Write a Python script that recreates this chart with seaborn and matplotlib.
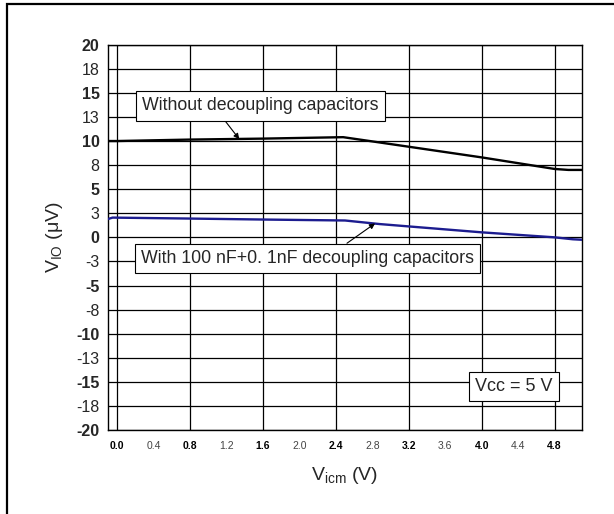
import numpy as np
import pandas as pd
import seaborn as sns
import matplotlib.pyplot as plt
from matplotlib.patches import Rectangle

vicm_no_cap = [-0.1, 0.0, 0.8, 1.6, 2.48, 2.88, 4.0, 4.8, 4.95, 5.1]
vio_no_cap = [10.0, 10.0, 10.15, 10.25, 10.4, 9.85, 8.3, 7.1, 7.0, 7.0]

vicm_with_cap = [-0.1, -0.05, 0.8, 1.6, 2.5, 2.88, 4.0, 4.8, 5.0, 5.1]
vio_with_cap = [1.9, 2.05, 1.95, 1.85, 1.75, 1.38, 0.52, 0.0, -0.2, -0.25]

xticks_major = [0.0, 0.8, 1.6, 2.4, 3.2, 4.0, 4.8]
xticks_minor = [0.4, 1.2, 2.0, 2.8, 3.6, 4.4]
yticks_major = [-20, -15, -10, -5, 0, 5, 10, 15, 20]
yticks_minor = [-17.5, -12.5, -7.5, -2.5, 2.5, 7.5, 12.5, 17.5]
ylabels_major = ["-20", "-15", "-10", "-5", "0", "5", "10", "15", "20"]
ylabels_minor = ["-18", "-13", "-8", "-3", "3", "8", "13", "18"]

label_no_cap = "Without decoupling capacitors"
label_with_cap = "With 100 nF+0. 1nF decoupling capacitors"

df = pd.concat([
    pd.DataFrame({"Vicm": vicm_no_cap, "Vio": vio_no_cap, "case": label_no_cap}),
    pd.DataFrame({"Vicm": vicm_with_cap, "Vio": vio_with_cap, "case": label_with_cap}),
])

sns.set_style("white")
plt.rcParams['font.family'] = ['Liberation Sans', 'DejaVu Sans']
plt.rcParams['mathtext.default'] = 'regular'

fig = plt.figure(figsize=(6.14, 5.14), dpi=100)
ax = fig.add_axes([108 / 614, 1 - 430 / 514, 474 / 614, 385.3 / 514])

sns.lineplot(data=df, x="Vicm", y="Vio", hue="case", sort=False,
             palette={label_no_cap: "black", label_with_cap: "#1c1c8f"},
             linewidth=1.7, legend=False, ax=ax, zorder=3)

ax.set_xlim(-0.1, 5.1)
ax.set_ylim(-20, 20)

ax.set_xticks(xticks_major)
ax.set_xticks(xticks_minor, minor=True)
ax.set_xticklabels(["%.1f" % v for v in xticks_major], fontsize=7.5, fontweight="bold")
ax.set_xticklabels(["%.1f" % v for v in xticks_minor], minor=True, fontsize=7.5, color="#444444")

ax.set_yticks(yticks_major)
ax.set_yticks(yticks_minor, minor=True)
ax.set_yticklabels(ylabels_major, fontsize=11.5, fontweight="bold")
ax.set_yticklabels(ylabels_minor, minor=True, fontsize=11.5)

ax.tick_params(axis="x", which="both", direction="in", length=3, width=1, pad=8, colors="black")
ax.tick_params(axis="x", which="minor", labelcolor="#444444")
ax.tick_params(axis="y", which="both", length=0, pad=6)

ax.grid(True, which="major", axis="x", color="black", linewidth=0.9)
ax.grid(True, which="both", axis="y", color="black", linewidth=0.9)
ax.set_axisbelow(True)
for s in ax.spines.values():
    s.set_color("black")
    s.set_linewidth(1.0)

ax.set_xlabel("V$_{icm}$ (V)", fontsize=14, labelpad=10)
ax.set_ylabel("V$_{IO}$ (\u03bcV)", fontsize=14, labelpad=8)

box = dict(boxstyle="square,pad=0.35", fc="white", ec="black", lw=0.8)
arrow = dict(arrowstyle="-|>", color="black", lw=0.8, mutation_scale=8, shrinkA=0, shrinkB=0)

ax.annotate(label_no_cap, xy=(1.34, 10.2), xytext=(1.57, 13.65),
            fontsize=12.8, ha="center", va="center", bbox=box,
            arrowprops=dict(arrow, relpos=(0.33, 0.0)), zorder=5)
ax.annotate(label_with_cap, xy=(2.83, 1.45), xytext=(2.09, -2.18),
            fontsize=12.8, ha="center", va="center", bbox=box,
            arrowprops=dict(arrow, relpos=(0.59, 1.0)), zorder=5)
ax.text(4.35, -15.5, "Vcc = 5 V", fontsize=13, ha="center", va="center",
        bbox=dict(boxstyle="square,pad=0.35", fc="white", ec="black", lw=0.8), zorder=5)

# outer frame of the picture (left and top edges)
fig.add_artist(Rectangle((7 / 614, -0.1), 1.2, 1.1 - 4 / 514, transform=fig.transFigure,
                         fill=False, ec="black", lw=1.6))

fig.savefig("out.png", dpi=100)
